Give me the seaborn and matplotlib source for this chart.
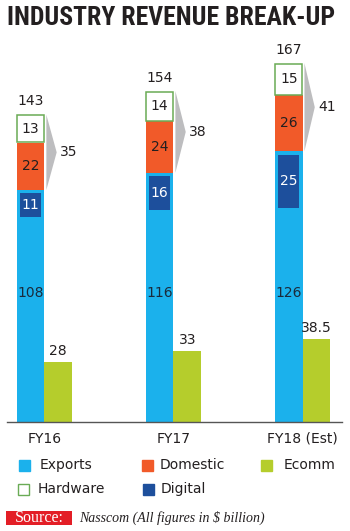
import numpy as np
import pandas as pd
import matplotlib.pyplot as plt
import matplotlib.patches as mpatches
import seaborn as sns

# ---- data ----
years = ["FY16", "FY17", "FY18 (Est)"]
exports = [108, 116, 126]
domestic = [22, 24, 26]
hardware = [13, 14, 15]
digital = [11, 16, 25]
ecomm = [28, 33, 38.5]
totals = [143, 154, 167]
dom_hw = [35, 38, 41]

legend_labels = ["Exports", "Domestic", "Ecomm", "Hardware", "Digital"]

c_exp = "#1bb1ec"
c_dom = "#f15a29"
c_eco = "#b5cd2c"
c_hw_edge = "#6aab55"
c_dig = "#1d4f9c"
c_arrow = "#bdbdbf"
c_text = "#231f20"

sns.set_theme(style="white")
plt.rcParams["font.family"] = ["DejaVu Sans"]

fig = plt.figure(figsize=(3.5, 5.31), dpi=100)
ax = fig.add_axes([7 / 350, 109 / 531, 335 / 350, 376 / 531])

# exports + ecomm side by side via seaborn
df = pd.DataFrame({
    "year": years * 2,
    "value": exports + ecomm,
    "kind": ["Exports"] * 3 + ["Ecomm"] * 3,
})
bw = 0.213
sns.barplot(data=df, x="year", y="value", hue="kind", order=years,
            hue_order=["Exports", "Ecomm"], palette=[c_exp, c_eco],
            width=2 * bw, dodge=True, legend=False, errorbar=None,
            saturation=1, linewidth=0, ax=ax)

x = np.arange(len(years))
xs = x - bw / 2
xe = x + bw / 2
exp_a = np.array(exports)
dom_a = np.array(domestic)
hw_a = np.array(hardware)
dig_a = np.array(digital)

# stacked segments on top of exports
ax.bar(xs, dom_a, bottom=exp_a, width=bw, color=c_dom, linewidth=0)
ax.bar(xs, hw_a - 0.6, bottom=exp_a + dom_a + 0.3, width=bw * 0.97,
       color="white", edgecolor=c_hw_edge, linewidth=1.1)
# digital inset inside exports
ax.bar(xs, dig_a, bottom=exp_a - 1.5 - dig_a, width=bw * 0.75,
       color=c_dig, linewidth=0)

for i in range(len(years)):
    top = exp_a[i] + dom_a[i] + hw_a[i]
    mid = (top + exp_a[i]) / 2
    xr = xs[i] + bw / 2
    ax.fill([xr + 0.015, xr + 0.095, xr + 0.015],
            [top, mid, exp_a[i]], color=c_arrow, linewidth=0)
    ax.text(xr + 0.12, mid, str(dom_hw[i]), ha="left", va="center",
            fontsize=10, color=c_text)
    ax.text(xs[i], top + 3, str(totals[i]), ha="center", va="bottom",
            fontsize=10, color=c_text)
    ax.text(xs[i], exp_a[i] + dom_a[i] + hw_a[i] / 2, str(hardware[i]),
            ha="center", va="center", fontsize=10, color=c_text)
    ax.text(xs[i], exp_a[i] + dom_a[i] / 2, str(domestic[i]),
            ha="center", va="center", fontsize=10, color=c_text)
    ax.text(xs[i], exp_a[i] - 1.5 - dig_a[i] / 2, str(digital[i]),
            ha="center", va="center", fontsize=10, color="white")
    ax.text(xs[i], 60, str(exports[i]), ha="center", va="center",
            fontsize=10, color="#1a2b3c")
    lab = f"{ecomm[i]:g}"
    ax.text(xe[i], ecomm[i] + 2, lab, ha="center", va="bottom",
            fontsize=10, color=c_text)

ax.set_xlim(-0.29, 2.306)
ax.set_ylim(0, 175)
ax.set_xlabel("")
ax.set_ylabel("")
ax.set_yticks([])
ax.set_xticks(x)
ax.set_xticklabels(years, fontsize=10, color=c_text)
ax.tick_params(axis="x", length=0, pad=7)
sns.despine(ax=ax, left=True)
ax.spines["bottom"].set_color("#555555")
ax.spines["bottom"].set_linewidth(1.0)

# title
fig.text(7 / 350, 1 - 18 / 531, "INDUSTRY REVENUE BREAK-UP",
         family=["Roboto Condensed", "Liberation Sans Narrow", "DejaVu Sans"],
         fontweight="black", fontsize=18.5, color=c_text, ha="left", va="center")

# legend drawn by hand
leg_colors = [c_exp, c_dom, c_eco, "white", c_dig]
leg_edges = [c_exp, c_dom, c_eco, c_hw_edge, c_dig]
leg_pos = [(19, 465), (142, 465), (261, 465), (18, 489), (143, 489)]
leg_text_x = [40, 160, 284, 38, 161]
for lab, fc, ec, (px, py), tx in zip(legend_labels, leg_colors, leg_edges,
                                     leg_pos, leg_text_x):
    fig.add_artist(mpatches.Rectangle((px / 350, 1 - (py + 5.5) / 531),
                                      11 / 350, 11 / 531,
                                      facecolor=fc, edgecolor=ec,
                                      linewidth=1.0, transform=fig.transFigure))
    fig.text(tx / 350, 1 - py / 531, lab, fontsize=10, color=c_text,
             ha="left", va="center")

# source line
fig.add_artist(mpatches.Rectangle((6 / 350, 1 - 525 / 531), 66 / 350, 14 / 531,
                                  facecolor="#e31e26", edgecolor="none",
                                  transform=fig.transFigure))
fig.text(39 / 350, 1 - 518 / 531, "Source:", family="Liberation Serif",
         fontsize=11.5, color="white", ha="center", va="center")
fig.text(79 / 350, 1 - 518 / 531, "Nasscom (All figures in $ billion)",
         family="Liberation Serif", style="italic", fontsize=10,
         color=c_text, ha="left", va="center")

fig.savefig("out.png", dpi=100)
